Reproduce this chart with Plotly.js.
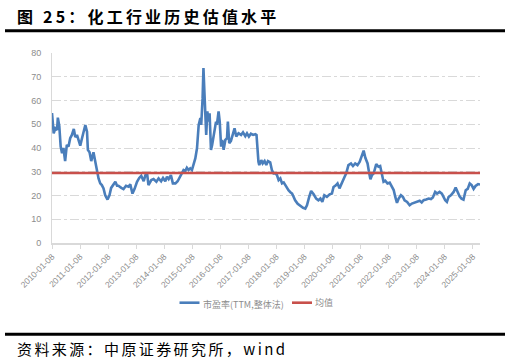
<!DOCTYPE html>
<html>
<head>
<meta charset="utf-8">
<script src="https://cdn.plot.ly/plotly-3.0.1.min.js"></script>
<style>
html,body{margin:0;padding:0;background:#fff;}
#chart{width:510px;height:362px;}
</style>
</head>
<body>
<div id="chart"></div>
<script>
// ---- Data (decimal year, P/E TTM) ----
const years = [
2010.02,2010.08,2010.14,2010.20,2010.23,2010.28,2010.33,2010.38,2010.43,2010.49,
2010.55,2010.61,2010.67,2010.73,2010.80,2010.85,2010.91,2010.97,2011.03,2011.09,
2011.15,2011.21,2011.27,2011.30,2011.36,2011.42,2011.50,2011.56,2011.62,2011.68,
2011.74,2011.80,2011.86,2011.92,2012.00,2012.07,2012.13,2012.19,2012.28,2012.34,
2012.39,2012.49,2012.57,2012.66,2012.75,2012.81,2012.89,2012.96,2013.05,2013.13,
2013.20,2013.29,2013.35,2013.41,2013.46,2013.56,2013.64,2013.74,2013.82,2013.91,
2013.98,2014.06,2014.12,2014.18,2014.26,2014.33,2014.42,2014.50,2014.57,2014.65,
2014.71,2014.77,2014.83,2014.89,2014.95,2015.01,2015.07,2015.13,2015.19,2015.25,
2015.31,2015.34,2015.39,2015.42,2015.46,2015.50,2015.52,2015.56,2015.60,2015.64,
2015.69,2015.73,2015.78,2015.82,2015.87,2015.90,2015.96,2016.00,2016.05,2016.09,
2016.14,2016.20,2016.26,2016.29,2016.34,2016.40,2016.47,2016.53,2016.59,2016.67,
2016.76,2016.83,2016.91,2016.97,2017.04,2017.11,2017.19,2017.27,2017.31,2017.35,
2017.38,2017.41,2017.48,2017.53,2017.60,2017.66,2017.72,2017.80,2017.86,2017.92,
2017.98,2018.04,2018.10,2018.16,2018.22,2018.28,2018.34,2018.40,2018.45,2018.52,
2018.58,2018.63,2018.69,2018.78,2018.87,2018.97,2019.05,2019.11,2019.19,2019.26,
2019.35,2019.44,2019.52,2019.59,2019.66,2019.73,2019.82,2019.92,2020.00,2020.06,
2020.14,2020.20,2020.27,2020.36,2020.44,2020.51,2020.59,2020.68,2020.75,2020.83,
2020.91,2020.99,2021.07,2021.13,2021.19,2021.27,2021.32,2021.37,2021.43,2021.49,
2021.58,2021.66,2021.72,2021.78,2021.84,2021.90,2021.98,2022.06,2022.14,2022.20,
2022.26,2022.32,2022.38,2022.46,2022.53,2022.59,2022.68,2022.77,2022.85,2022.94,
2023.03,2023.13,2023.20,2023.27,2023.36,2023.45,2023.53,2023.60,2023.68,2023.75,
2023.84,2023.92,2023.98,2024.04,2024.10,2024.16,2024.24,2024.34,2024.41,2024.48,
2024.55,2024.62,2024.69,2024.77,2024.84,2024.91,2024.98,2025.05,2025.12,2025.21,
2025.28
];
const peValues = [
54.7,46.2,48.3,47.6,52.8,49.2,40.6,37.8,40.0,34.5,
41.3,40.6,44.1,45.5,48.0,44.6,45.5,43.0,41.0,44.0,
46.9,49.7,46.9,39.2,38.2,34.5,38.2,34.2,30.0,27.2,
25.1,24.4,23.0,20.1,18.3,20.1,23.2,24.4,25.8,24.1,
24.1,23.2,22.7,24.1,23.7,24.7,20.8,22.7,25.8,27.4,
28.3,26.0,28.6,29.3,24.4,26.5,26.9,25.8,27.2,26.0,
27.4,26.0,27.9,26.9,28.6,25.1,25.1,26.0,27.4,29.3,
30.7,30.3,31.7,30.7,31.4,30.7,33.5,35.6,39.9,49.7,
52.6,49.7,61.0,73.7,62.4,51.1,45.5,55.4,51.1,54.6,
39.2,41.3,45.5,46.9,51.1,49.7,55.4,51.1,40.6,43.4,
39.2,43.4,44.1,51.1,42.0,43.0,45.5,48.3,44.8,46.2,
45.5,46.6,45.0,46.2,44.8,46.0,45.5,45.8,45.5,38.4,
34.2,32.8,34.9,33.5,34.5,32.8,34.5,34.0,30.7,29.3,
29.3,28.6,26.5,27.2,25.1,25.5,24.1,23.2,22.2,21.4,
20.8,19.6,18.0,16.5,15.6,14.8,14.5,15.9,19.4,21.9,
20.5,18.7,18.0,18.7,17.3,20.1,19.4,20.5,20.8,23.6,
24.3,25.1,23.0,25.8,27.6,29.3,32.8,33.5,32.4,33.5,
32.8,34.2,37.0,38.9,35.9,33.5,30.0,26.8,28.6,29.3,
33.2,32.1,32.4,29.3,25.8,26.2,25.1,25.4,23.7,22.3,
19.4,16.9,18.7,20.1,19.4,18.0,17.3,15.9,16.6,16.9,
17.3,17.8,17.1,18.0,18.3,18.7,18.5,19.2,21.5,20.8,
21.5,20.8,19.4,18.0,17.3,19.4,20.1,21.5,23.4,21.5,
19.7,18.7,18.3,22.2,22.8,25.1,24.4,22.8,24.0,24.8,
24.6
];
const meanValue = 29.5;
const tickLabels = ['2010-01-08','2011-01-08','2012-01-08','2013-01-08','2014-01-08','2015-01-08','2016-01-08','2017-01-08','2018-01-08','2019-01-08','2020-01-08','2021-01-08','2022-01-08','2023-01-08','2024-01-08','2025-01-08'];
const seriesNames = ['市盈率(TTM,整体法)','均值'];
const titleText = '图 25：化工行业历史估值水平';
const sourceText = '资料来源：中原证券研究所，wind';

// ---- helpers ----
function yrToDate(y){
  const yr = Math.floor(y);
  const s = Date.UTC(yr,0,1), e = Date.UTC(yr+1,0,1);
  return new Date(s + (y-yr)*(e-s)).toISOString().slice(0,10);
}
const dates = years.map(yrToDate);

const W=510,H=362, M={l:52,r:30,t:53,b:119};
const PW=W-M.l-M.r, PH=H-M.t-M.b;
const px = x => (x-M.l)/PW;
const py = y => (H-M.b-y)/PH;

const BLUE='#4a7ebb', RED='#c8504b', GREY='#8c8c8c';

const traces = [
  {x:dates, y:peValues, type:'scatter', mode:'lines', name:seriesNames[0],
   line:{color:BLUE, width:2.6}, hoverinfo:'skip'},
  {x:[dates[0], dates[dates.length-1]], y:[meanValue, meanValue], type:'scatter', mode:'lines',
   name:seriesNames[1], line:{color:RED, width:2.6}, hoverinfo:'skip'}
];

const layout = {
  width:W, height:H, margin:M, showlegend:false,
  paper_bgcolor:'#fff', plot_bgcolor:'#fff',
  font:{family:'Liberation Sans, Arial, sans-serif', color:GREY},
  xaxis:{type:'date', range:['2010-01-08','2025-04-12'],
    tickmode:'array', tickvals:tickLabels, ticktext:tickLabels,
    tickangle:-45, tickfont:{size:8.5, color:GREY},
    ticks:'outside', ticklen:4, tickcolor:'#d9d9d9', tickwidth:1,
    showline:true, linecolor:'#d9d9d9', linewidth:1.5,
    showgrid:false, zeroline:false, fixedrange:true},
  yaxis:{range:[0,80], dtick:10, tick0:0, tickfont:{size:9, color:GREY},
    ticks:'', ticklabelstandoff:8,
    showline:true, linecolor:'#d9d9d9', linewidth:1,
    showgrid:true, gridcolor:'#d9d9d9', gridwidth:1, griddash:'dashdot',
    zeroline:false, fixedrange:true},
  shapes:[
    {type:'line', xref:'paper', yref:'paper', x0:px(5), x1:px(505), y0:py(30.8), y1:py(30.8), line:{color:'#000', width:3}},
    {type:'line', xref:'paper', yref:'paper', x0:px(5), x1:px(505), y0:py(334.2), y1:py(334.2), line:{color:'#000', width:3}},
    {type:'line', xref:'paper', yref:'paper', x0:px(179.5), x1:px(199.5), y0:py(302.7), y1:py(302.7), line:{color:BLUE, width:2.6}},
    {type:'line', xref:'paper', yref:'paper', x0:px(292), x1:px(312), y0:py(302.7), y1:py(302.7), line:{color:RED, width:2.6}}
  ],
  annotations:[
    {text:titleText, xref:'paper', yref:'paper', x:px(17), y:py(16.5), xanchor:'left', yanchor:'middle',
     showarrow:false, font:{family:'Noto Sans CJK SC', size:16, weight:'bold', color:'#000'}},
    {text:sourceText, xref:'paper', yref:'paper', x:px(17), y:py(348), xanchor:'left', yanchor:'middle',
     showarrow:false, font:{family:'Noto Sans CJK SC', size:15, color:'#000'}},
    {text:seriesNames[0], xref:'paper', yref:'paper', x:px(200.5), y:py(304.5), xanchor:'left', yanchor:'middle',
     showarrow:false, font:{family:'Noto Sans CJK SC', size:9, color:GREY}},
    {text:seriesNames[1], xref:'paper', yref:'paper', x:px(312.5), y:py(302.5), xanchor:'left', yanchor:'middle',
     showarrow:false, font:{family:'Noto Sans CJK SC', size:9, color:GREY}}
  ]
};

Plotly.newPlot('chart', traces, layout, {displayModeBar:false, staticPlot:true}).then(() => {
  const host = document.getElementById('chart').getBoundingClientRect();
  document.querySelectorAll('.annotation-text').forEach(t => {
    const s = t.textContent;
    let sp = null;
    if (s === titleText) sp = 3.2;
    if (s === sourceText) sp = 2.4;
    if (sp === null) return;
    const before = t.getBoundingClientRect().left - host.left;
    t.style.letterSpacing = sp + 'px';
    t.setAttribute('text-anchor', 'start');
    const x0 = parseFloat(t.getAttribute('x')) || 0;
    const after = t.getBoundingClientRect().left - host.left;
    t.setAttribute('x', x0 + (17 - after));
    t.querySelectorAll('tspan').forEach(ts => { if (ts.hasAttribute('x')) ts.setAttribute('x', x0 + (17 - after)); });
  });
});
</script>
</body>
</html>
